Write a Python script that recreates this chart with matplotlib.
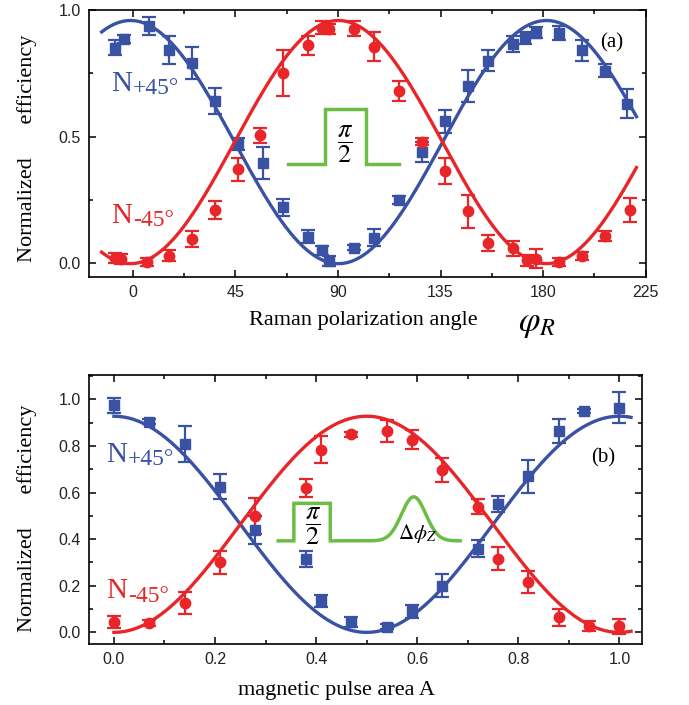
import numpy as np
import matplotlib
matplotlib.use("Agg")
import matplotlib.pyplot as plt
from matplotlib.ticker import MultipleLocator, FormatStrFormatter

plt.rcParams["font.family"] = ["Liberation Serif", "DejaVu Serif"]
plt.rcParams["mathtext.fontset"] = "stix"

# ---- data ----
# (a) Raman polarization angle (deg)
angle_plus = [-8, -4, 7, 16, 26, 36, 46, 57, 66, 77, 83, 86, 97, 106, 117,
              127, 137, 147, 156, 167, 172, 177, 187, 197, 207, 217]
eff_plus_a = [0.85, 0.885, 0.935, 0.84, 0.79, 0.64, 0.47, 0.395, 0.22, 0.105,
              0.05, 0.01, 0.06, 0.10, 0.25, 0.44, 0.56, 0.70, 0.80, 0.865,
              0.89, 0.91, 0.91, 0.84, 0.76, 0.63]
err_plus_a = [0.03, 0.015, 0.036, 0.055, 0.064, 0.05, 0.025, 0.063, 0.034,
              0.024, 0.017, 0.02, 0.01, 0.033, 0.015, 0.04, 0.045, 0.064,
              0.04, 0.03, 0.023, 0.023, 0.028, 0.04, 0.026, 0.057]
angle_minus = [-8, -5, 6, 16, 26, 36, 46, 56, 66, 77, 83, 86, 97, 106, 117,
               127, 137, 147, 156, 167, 173, 177, 187, 197, 207, 218]
eff_minus_a = [0.02, 0.015, 0.005, 0.03, 0.095, 0.21, 0.37, 0.505, 0.75, 0.86,
               0.93, 0.925, 0.925, 0.855, 0.68, 0.48, 0.365, 0.205, 0.08,
               0.058, 0.012, 0.018, 0.005, 0.028, 0.106, 0.21]
err_minus_a = [0.02, 0.02, 0.015, 0.02, 0.033, 0.036, 0.046, 0.03, 0.092,
               0.037, 0.025, 0.02, 0.03, 0.056, 0.04, 0.015, 0.052, 0.066,
               0.033, 0.031, 0.022, 0.036, 0.015, 0.015, 0.02, 0.046]
# fitted cosine curves (offset, amplitude, period, phase)
fit_a = dict(offset=0.478, amp=0.48, period=182.5, phase=-1.0, start=-13.7, stop=221)

# (b) magnetic pulse area A
area_plus = [0.0, 0.07, 0.14, 0.21, 0.28, 0.38, 0.41, 0.47, 0.54, 0.59, 0.65,
             0.72, 0.76, 0.82, 0.88, 0.93, 1.0]
eff_plus_b = [0.975, 0.905, 0.81, 0.625, 0.44, 0.315, 0.135, 0.045, 0.025,
              0.09, 0.20, 0.36, 0.55, 0.67, 0.865, 0.95, 0.965]
err_plus_b = [0.032, 0.01, 0.077, 0.054, 0.06, 0.036, 0.026, 0.023, 0.01,
              0.029, 0.05, 0.037, 0.034, 0.072, 0.053, 0.01, 0.067]
area_minus = [0.0, 0.07, 0.14, 0.21, 0.28, 0.38, 0.41, 0.47, 0.54, 0.59, 0.65,
              0.72, 0.76, 0.82, 0.88, 0.94, 1.0]
eff_minus_b = [0.045, 0.04, 0.127, 0.30, 0.50, 0.62, 0.785, 0.85, 0.864,
               0.828, 0.697, 0.539, 0.317, 0.217, 0.064, 0.027, 0.027]
err_minus_b = [0.027, 0.012, 0.046, 0.051, 0.077, 0.039, 0.059, 0.01, 0.047,
               0.039, 0.051, 0.032, 0.048, 0.048, 0.036, 0.021, 0.032]
fit_b = dict(offset=0.464, amp=0.464, period=1.0, phase=0.0, start=0.0, stop=1.023)

BLUE = "#3a52a4"
RED = "#e8262a"
GREEN = "#6cbd45"


def fit_curve(p, sign):
    x = np.linspace(p["start"], p["stop"], 400)
    y = p["offset"] + sign * p["amp"] * np.cos(2 * np.pi * (x - p["phase"]) / p["period"])
    return x, y


def style_axes(ax):
    for s in ax.spines.values():
        s.set_linewidth(1.2)
    ax.tick_params(which="both", direction="in", top=True, right=True,
                   width=1.1, labelsize=11.5, pad=6)
    ax.tick_params(which="major", length=5)
    ax.tick_params(which="minor", length=3)
    for lab in ax.get_xticklabels() + ax.get_yticklabels():
        lab.set_fontfamily("Liberation Sans")
        lab.set_color("#222222")


def draw_panel(ax, xp, yp, ep, xm, ym, em, fit):
    ax.errorbar(xp, yp, yerr=ep, fmt="s", color=BLUE, ms=7, capsize=5,
                elinewidth=1.6, capthick=1.6, zorder=3)
    ax.errorbar(xm, ym, yerr=em, fmt="o", color=RED, ms=7.5, capsize=5,
                elinewidth=1.6, capthick=1.6, zorder=3)
    x, y = fit_curve(fit, +1)
    ax.plot(x, y, color=BLUE, lw=2.4, zorder=4)
    x, y = fit_curve(fit, -1)
    ax.plot(x, y, color=RED, lw=2.4, zorder=4)


def state_label(ax, x, y, sub, color):
    ax.text(x, y, "N", color=color, fontsize=21, ha="left", va="baseline")
    ax.annotate(sub, xy=(x, y), xytext=(15.5, -2.5), textcoords="offset points",
                color=color, fontsize=17, ha="left", va="baseline")


fig = plt.figure(figsize=(6.89, 7.05), dpi=100)

# ---------------- panel (a) ----------------
ax1 = fig.add_axes([0.129, 0.607, 0.808, 0.379])
draw_panel(ax1, angle_plus, eff_plus_a, err_plus_a,
           angle_minus, eff_minus_a, err_minus_a, fit_a)
ax1.set_xlim(-19.3, 225)
ax1.set_ylim(-0.055, 1.0)
ax1.xaxis.set_major_locator(MultipleLocator(45))
ax1.xaxis.set_minor_locator(MultipleLocator(22.5))
ax1.yaxis.set_major_locator(MultipleLocator(0.5))
ax1.yaxis.set_minor_locator(MultipleLocator(0.25))
ax1.yaxis.set_major_formatter(FormatStrFormatter("%.1f"))
style_axes(ax1)

# pi/2 pulse sketch
ax1.plot([68, 84.1, 84.1, 102.5, 102.5, 117], [0.39, 0.39, 0.609, 0.609, 0.39, 0.39],
         color=GREEN, lw=2.5, solid_joinstyle="miter", zorder=2)
ax1.text(93.3, 0.47, r"$\dfrac{\pi}{2}$", fontsize=19, ha="center", va="center")
state_label(ax1, -9.3, 0.681, "+45°", BLUE)
state_label(ax1, -9.3, 0.159, "-45°", RED)
ax1.text(210, 0.87, "(a)", fontsize=15, ha="center", va="center")

fig.text(0.528, 0.539, "Raman polarization angle", fontsize=16, ha="center", va="baseline")
fig.text(0.752, 0.530, r"$\varphi_R$", fontsize=25, ha="left", va="baseline")
fig.text(0.039, 0.79, "Normalized      efficiency", fontsize=16, rotation=90,
         ha="center", va="center")

# ---------------- panel (b) ----------------
ax2 = fig.add_axes([0.129, 0.0865, 0.803, 0.3816])
draw_panel(ax2, area_plus, eff_plus_b, err_plus_b,
           area_minus, eff_minus_b, err_minus_b, fit_b)
ax2.set_xlim(-0.0495, 1.045)
ax2.set_ylim(-0.05, 1.105)
ax2.xaxis.set_major_locator(MultipleLocator(0.2))
ax2.xaxis.set_minor_locator(MultipleLocator(0.1))
ax2.yaxis.set_major_locator(MultipleLocator(0.2))
ax2.yaxis.set_minor_locator(MultipleLocator(0.1))
ax2.xaxis.set_major_formatter(FormatStrFormatter("%.1f"))
ax2.yaxis.set_major_formatter(FormatStrFormatter("%.1f"))
style_axes(ax2)

# pi/2 pulse followed by a Gaussian phase kick
gx = np.linspace(0.428, 0.685, 200)
gy = 0.393 + 0.189 * np.exp(-(gx - 0.593) ** 2 / (2 * 0.024 ** 2))
px = np.concatenate([[0.325, 0.356, 0.356, 0.428], gx])
py = np.concatenate([[0.393, 0.393, 0.554, 0.554], gy])
ax2.plot(px, py, color=GREEN, lw=2.5, solid_joinstyle="miter", zorder=2)
ax2.text(0.394, 0.455, r"$\dfrac{\pi}{2}$", fontsize=19, ha="center", va="center")
ax2.text(0.562, 0.4, r"$\Delta\phi_Z$", fontsize=15, ha="left", va="baseline")
state_label(ax2, -0.0145, 0.732, "+45°", BLUE)
state_label(ax2, -0.0145, 0.146, "-45°", RED)
ax2.text(0.967, 0.748, "(b)", fontsize=15, ha="center", va="center")

fig.text(0.488, 0.0142, "magnetic pulse area A", fontsize=16, ha="center", va="baseline")
fig.text(0.039, 0.265, "Normalized      efficiency", fontsize=16, rotation=90,
         ha="center", va="center")

fig.savefig("out.png", dpi=100)
